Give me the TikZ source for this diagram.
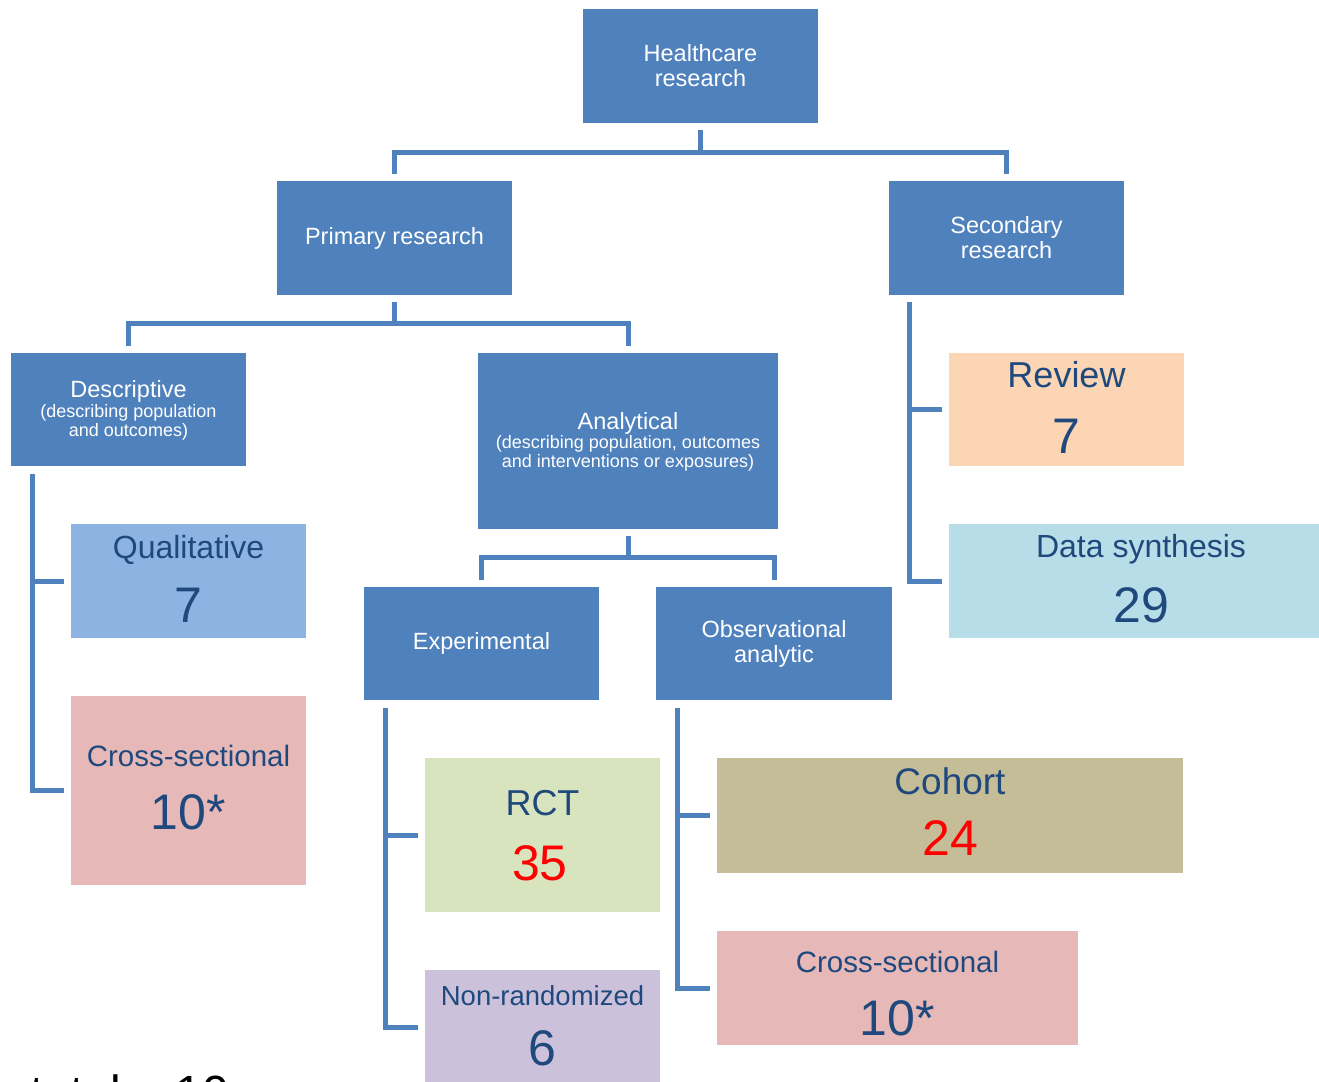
\documentclass[tikz,border=0pt]{standalone}
\usepackage{fontspec}
\setmainfont{Liberation Sans}
\definecolor{hdr}{HTML}{4F81BD}
\definecolor{dkb}{HTML}{1F497D}
\definecolor{cqual}{HTML}{8DB3E2}
\definecolor{ccross}{HTML}{E6B9B8}
\definecolor{crev}{HTML}{FCD5B5}
\definecolor{cdata}{HTML}{B7DEE8}
\definecolor{crct}{HTML}{D7E4BD}
\definecolor{cnonr}{HTML}{CCC1DA}
\definecolor{ccoh}{HTML}{C4BD97}
\begin{document}
\begin{tikzpicture}[x=1pt,y=-1pt,
  box/.style={fill=hdr, draw=none, inner sep=0pt, text=white, align=center,
    font=\fontsize{23.5}{25}\selectfont},
  leaf/.style={draw=none, inner sep=0pt},
  conn/.style={draw=hdr, line width=5pt},
  lbl/.style={inner sep=0pt, anchor=base, text=white},
  ttl/.style={inner sep=0pt, anchor=base, text=dkb},
  numb/.style={inner sep=0pt, anchor=base, text=dkb, font=\fontsize{50}{54}\selectfont},
  rnumb/.style={inner sep=0pt, anchor=base, text=red, font=\fontsize{50}{54}\selectfont}]
\useasboundingbox (0,0) rectangle (1319,1081);
\clip (0,0) rectangle (1319,1081);

% blue boxes
\node[box, minimum width=235pt, minimum height=114pt] (hc) at (700.5,66) {Healthcare\\research};
\node[box, minimum width=235pt, minimum height=114pt] (pr) at (394.5,238) {Primary research};
\node[box, minimum width=235pt, minimum height=114pt] (sr) at (1006.5,238) {Secondary\\research};
\node[box, minimum width=235pt, minimum height=113pt] (de) at (128.5,409.5) {};
\node[box, minimum width=300pt, minimum height=176pt] (an) at (628,441) {};
\node[box, minimum width=235pt, minimum height=113pt] (ex) at (481.5,643.5) {Experimental};
\node[box, minimum width=236pt, minimum height=113pt] (ob) at (774,643.5) {Observational\\analytic};

\node[lbl, font=\fontsize{23.5}{25}\selectfont] (deT) at (128.5,397) {Descriptive};
\node[lbl, font=\fontsize{18}{19}\selectfont] (deS1) at (128.5,417) {(describing population};
\node[lbl, font=\fontsize{18}{19}\selectfont] (deS2) at (128.5,436) {and outcomes)};
\node[lbl, font=\fontsize{23.5}{25}\selectfont] (anT) at (628,429) {Analytical};
\node[lbl, font=\fontsize{18}{19}\selectfont] (anS1) at (628,448) {(describing population, outcomes};
\node[lbl, font=\fontsize{18}{19}\selectfont] (anS2) at (628,467) {and interventions or exposures)};

% leaf boxes
\node[leaf, fill=cqual, minimum width=235pt, minimum height=114pt] (ql) at (188.5,581) {};
\node[leaf, fill=ccross, minimum width=235pt, minimum height=189pt] (cl) at (188.5,790.5) {};
\node[leaf, fill=crev, minimum width=235pt, minimum height=113pt] (rv) at (1066.5,409.5) {};
\node[leaf, fill=cdata, minimum width=370pt, minimum height=114pt] (ds) at (1134,581) {};
\node[leaf, fill=crct, minimum width=235pt, minimum height=154pt] (rc) at (542.5,835) {};
\node[leaf, fill=cnonr, minimum width=235pt, minimum height=120pt] (nr) at (542.5,1030) {};
\node[leaf, fill=ccoh, minimum width=466pt, minimum height=115pt] (co) at (950,815.5) {};
\node[leaf, fill=ccross, minimum width=361pt, minimum height=114pt] (cr) at (897.5,988) {};

% leaf texts
\node[ttl, font=\fontsize{32}{34}\selectfont] (qlT) at (188.5,558) {Qualitative};
\node[numb] (qlN) at (188.5,622) {7};
\node[ttl, font=\fontsize{29.5}{32}\selectfont] (clT) at (188.5,766) {Cross-sectional};
\node[numb] (clN) at (188.5,829) {10*};
\node[ttl, font=\fontsize{36}{38}\selectfont] (rvT) at (1066.5,387) {Review};
\node[numb] (rvN) at (1066.5,453) {7};
\node[ttl, font=\fontsize{32}{34}\selectfont] (dsT) at (1141,557) {Data synthesis};
\node[numb] (dsN) at (1141,622) {29};
\node[ttl, font=\fontsize{36}{38}\selectfont] (rcT) at (542.5,815) {RCT};
\node[rnumb] (rcN) at (540,880) {35};
\node[ttl, font=\fontsize{27.5}{30}\selectfont] (nrT) at (542.5,1005) {Non-randomized};
\node[numb] (nrN) at (542.5,1065) {6};
\node[ttl, font=\fontsize{37}{39}\selectfont] (coT) at (950,794) {Cohort};
\node[rnumb] (coN) at (950,855) {24};
\node[ttl, font=\fontsize{29.5}{32}\selectfont] (crT) at (897.5,972) {Cross-sectional};
\node[numb] (crN) at (897.5,1035) {10*};

% cut-off footer text
\node[inner sep=0pt, anchor=base west, text=black, font=\fontsize{48}{50}\selectfont] (tot) at (30,1109) {total = 10};

% tree connectors
\coordinate (j1) at (700.5,152);
\draw[conn] ([yshift=-7pt]hc.south) -- (j1);
\draw[conn] ([yshift=7pt]pr.north) |- (j1) -| ([yshift=7pt]sr.north);

\coordinate (j2) at (394.5,323);
\draw[conn] ([yshift=-7pt]pr.south) -- (j2);
\draw[conn] ([yshift=7pt]de.north) |- (j2) -| ([yshift=7pt]an.north);

\coordinate (j3) at (628,557);
\draw[conn] ([yshift=-7pt]an.south) -- (j3);
\draw[conn] ([yshift=7pt]ex.north) |- (j3) -| ([yshift=7pt]ob.north);

% bracket connectors
\coordinate (bd) at ([xshift=22pt,yshift=-8pt]de.south west);
\draw[conn] (bd) |- ([xshift=-7pt]cl.west);
\draw[conn] (bd |- ql.west) -- ([xshift=-7pt]ql.west);

\coordinate (bs) at ([xshift=21pt,yshift=-7pt]sr.south west);
\draw[conn] (bs) |- ([xshift=-7pt]ds.west);
\draw[conn] (bs |- rv.west) -- ([xshift=-7pt]rv.west);

\coordinate (be) at ([xshift=22pt,yshift=-8pt]ex.south west);
\draw[conn] (be) |- ([xshift=-7pt,yshift=3pt]nr.west);
\draw[conn] (be |- rc.west) -- ([xshift=-7pt]rc.west);

\coordinate (bo) at ([xshift=22pt,yshift=-8pt]ob.south west);
\draw[conn] (bo) |- ([xshift=-7pt]cr.west);
\draw[conn] (bo |- co.west) -- ([xshift=-7pt]co.west);
\end{tikzpicture}
\end{document}
